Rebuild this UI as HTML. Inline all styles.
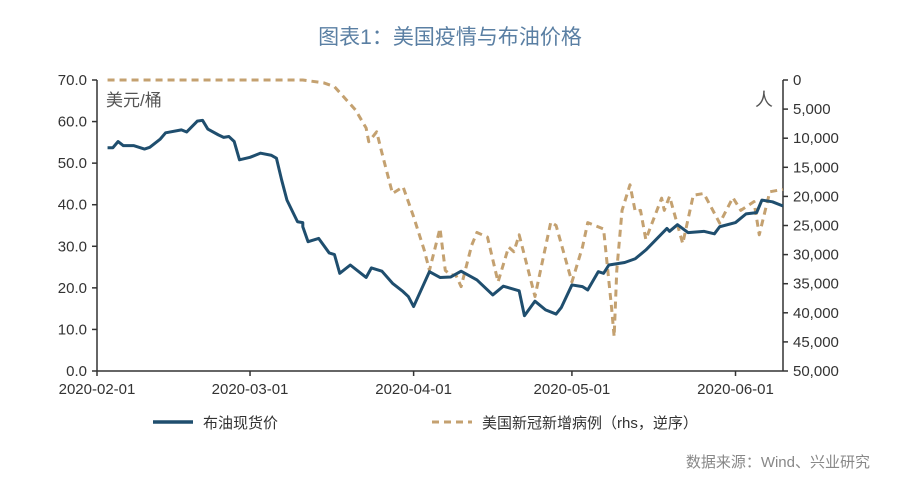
<!DOCTYPE html>
<html><head><meta charset="utf-8">
<style>
body{margin:0;background:#fff;width:900px;height:479px;overflow:hidden;font-family:"Liberation Sans","Noto Sans CJK SC",sans-serif;}
svg text{font-family:"Liberation Sans","Noto Sans CJK SC",sans-serif;}
</style></head>
<body>
<svg id="chart" width="900" height="479" xmlns="http://www.w3.org/2000/svg">
<text x="450" y="44" text-anchor="middle" font-size="21" fill="#5a7fa3">图表1：美国疫情与布油价格</text>
<g id="axes"></g>
<g id="marks"></g>
<text x="106" y="106" font-size="17" fill="#555">美元/桶</text>
<text x="755" y="106" font-size="18" fill="#555">人</text>
<line x1="153" y1="422" x2="193" y2="422" stroke="#1f4e6e" stroke-width="3.5"/>
<text x="203" y="428" font-size="15" fill="#333">布油现货价</text>
<line x1="432" y1="422" x2="472" y2="422" stroke="#c4a170" stroke-width="3" stroke-dasharray="7,5"/>
<text x="482" y="428" font-size="15" fill="#333">美国新冠新增病例（rhs，逆序）</text>
<text x="870" y="467" text-anchor="end" font-size="15" fill="#888">数据来源：Wind、兴业研究</text>
</svg>
<script>
const oilDays=[2,3,4,5,7,9,10,12,13,16,17,19,20,21,23,24,25,26,27,29,31,33,34,35,36,38,39,39,40,42,44,45,46,48,51,52,54,56,58,59,60,63,65,67,69,72,73,75,77,80,81,83,85,87,88,90,92,93,95,96,97,100,102,104,108,108.5,110,112,115,117,118,121,123,125,126,128,130];
const oilVals=[53.7,53.7,55.2,54.2,54.2,53.4,53.8,55.8,57.3,58,57.5,60.1,60.3,58.2,56.8,56.2,56.4,55.2,50.8,51.4,52.4,51.9,51.2,45.9,41.1,35.9,35.7,34.7,31.1,31.9,28.4,28,23.5,25.5,22.5,24.8,24,21.1,19.1,17.9,15.5,23.9,22.5,22.6,24,21.9,20.7,18.3,20.4,19.3,13.3,16.8,14.7,13.7,15.3,20.7,20.3,19.5,23.9,23.5,25.5,26.1,27,29.1,34.3,33.6,35.2,33.3,33.6,33,34.7,35.7,37.8,38.1,41.1,40.7,39.7];
const caseDays=[2,10,20,30,39,43,45,49,51,51.5,53,54,56,58,60,62,63,65,66,67,68,69,71,72,74,76,78,79,80,83,86,87,90,92,93,96,97.5,98,98.5,99.5,101,102,103,104,107,107.5,108.5,111,113,115,118,120.5,122,124.5,125.5,127.5,130];
const caseVals=[0,0,0,0,0,500,1150,5160,8250,10600,8900,12550,19500,18350,23500,29200,32700,25500,32700,33500,33500,35500,28400,26200,27000,34700,28700,29500,26600,37200,24400,25000,34700,28700,24500,25600,39000,44100,32700,22400,18000,22600,22400,27400,20300,22400,20000,28100,19800,19500,24600,20200,22400,20900,26600,19200,18800];
const leftTicks=[0,10,20,30,40,50,60,70];
const rightTicks=[0,5000,10000,15000,20000,25000,30000,35000,40000,45000,50000];
const dateTicks=[0,29,60,90,121];
const dateLabels=["2020-02-01","2020-03-01","2020-04-01","2020-05-01","2020-06-01"];
const X0=97,X1=783,Y0=371,Y1=80,DMAX=130;
const xs=d=>X0+d*(X1-X0)/DMAX;
const yl=v=>Y0-v*(Y0-Y1)/70;
const yr=v=>Y1+v*(Y0-Y1)/50000;
const NS="http://www.w3.org/2000/svg";
const axes=document.getElementById('axes'),marks=document.getElementById('marks');
function mk(tag,attrs,parent){const e=document.createElementNS(NS,tag);for(const k in attrs)e.setAttribute(k,attrs[k]);parent.appendChild(e);return e;}
let e;
e=mk('line',{x1:X0,y1:Y1,x2:X0,y2:Y0,stroke:'#333','stroke-width':1.5},axes);


e=mk('line',{x1:X1,y1:Y1,x2:X1,y2:Y0,stroke:'#333','stroke-width':1.5},axes);


e=mk('line',{x1:X0,y1:Y0,x2:X1,y2:Y0,stroke:'#333','stroke-width':1.5},axes);


leftTicks.forEach(v=>{
  mk('line',{x1:X0-5,y1:yl(v),x2:X0,y2:yl(v),stroke:'#333','stroke-width':1.5},axes);
  const t=mk('text',{x:X0-10,y:yl(v)+5,'text-anchor':'end','font-size':15,fill:'#333'},axes);
  t.textContent=v.toFixed(1);
  
  
});
rightTicks.forEach(v=>{
  mk('line',{x1:X1,y1:yr(v),x2:X1+5,y2:yr(v),stroke:'#333','stroke-width':1.5},axes);
  const t=mk('text',{x:X1+10,y:yr(v)+5,'font-size':15,fill:'#333'},axes);
  t.textContent=v.toLocaleString('en-US');
  
  
});
dateTicks.forEach((d,i)=>{
  mk('line',{x1:xs(d),y1:Y0,x2:xs(d),y2:Y0+5,stroke:'#333','stroke-width':1.5},axes);
  const t=mk('text',{x:xs(d),y:Y0+23,'text-anchor':'middle','font-size':15,fill:'#333'},axes);
  t.textContent=dateLabels[i];
  
  
});
const cp=mk('polyline',{points:caseDays.map((d,i)=>xs(d)+','+yr(caseVals[i])).join(' '),fill:'none',stroke:'#c4a170','stroke-width':3,'stroke-dasharray':'7,5','stroke-linejoin':'round'},marks);


const op=mk('polyline',{points:oilDays.map((d,i)=>xs(d)+','+yl(oilVals[i])).join(' '),fill:'none',stroke:'#1f4e6e','stroke-width':3,'stroke-linejoin':'round'},marks);


</script>
</body></html>
